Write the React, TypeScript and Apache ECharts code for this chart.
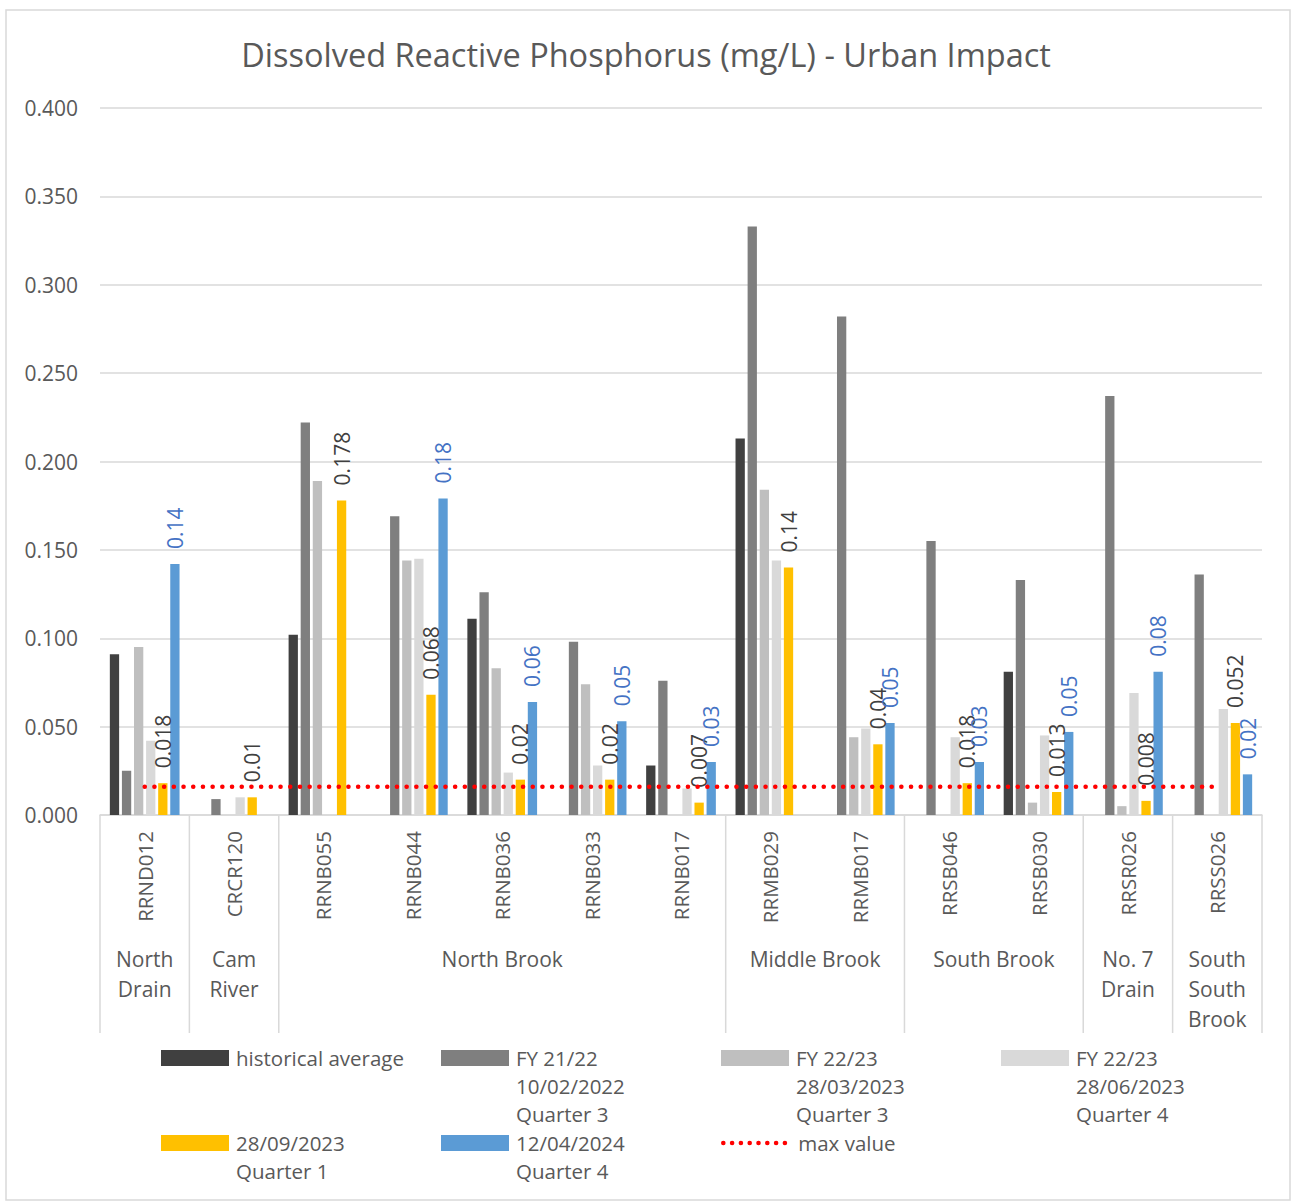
import React, { useEffect, useRef } from 'react';
import * as echarts from 'echarts';

const FONT = '"Open Sans", "Noto Sans", sans-serif';

const categories = ['RRND012', 'CRCR120', 'RRNB055', 'RRNB044', 'RRNB036', 'RRNB033', 'RRNB017', 'RRMB029', 'RRMB017', 'RRSB046', 'RRSB030', 'RRSR026', 'RRSS026'];
const groupNames = ['North\nDrain', 'Cam\nRiver', 'North Brook', 'Middle Brook', 'South Brook', 'No. 7\nDrain', 'South\nSouth\nBrook'];
const groupSizes = [1, 1, 5, 2, 2, 1, 1];

const historicalAverage = [0.091, null, 0.102, null, 0.111, null, 0.028, 0.213, null, null, 0.081, null, null];
const fy2122 = [0.025, 0.009, 0.222, 0.169, 0.126, 0.098, 0.076, 0.333, 0.282, 0.155, 0.133, 0.237, 0.136];
const fy2223Q3 = [0.095, null, 0.189, 0.144, 0.083, 0.074, null, 0.184, 0.044, null, 0.007, 0.005, null];
const fy2223Q4 = [0.042, 0.01, null, 0.145, 0.024, 0.028, 0.015, 0.144, 0.049, 0.044, 0.045, 0.069, 0.06];
const sep2023Q1 = [0.018, 0.01, 0.178, 0.068, 0.02, 0.02, 0.007, 0.14, 0.04, 0.018, 0.013, 0.008, 0.052];
const apr2024Q4 = [0.142, null, null, 0.179, 0.064, 0.053, 0.03, null, 0.052, 0.03, 0.047, 0.081, 0.023];
const maxValue = [0.016, 0.016, 0.016, 0.016, 0.016, 0.016, 0.016, 0.016, 0.016, 0.016, 0.016, 0.016, 0.016];

const seriesNames = [
  'historical average',
  'FY 21/22\n10/02/2022\nQuarter 3',
  'FY 22/23\n28/03/2023\nQuarter 3',
  'FY 22/23\n28/06/2023\nQuarter 4',
  '28/09/2023\nQuarter 1',
  '12/04/2024\nQuarter 4',
  'max value',
];
const seriesColors = ['#404040', '#7f7f7f', '#bfbfbf', '#d9d9d9', '#ffc000', '#5b9bd5', '#ff0000'];
const yTicks = { min: 0, max: 0.4, interval: 0.05 };

export default function App() {
  const ref = useRef<HTMLDivElement>(null);

  useEffect(() => {
    document.body.style.margin = '0';
    const chart = echarts.init(ref.current!, undefined, { renderer: 'svg' });

    const barData = [historicalAverage, fy2122, fy2223Q3, fy2223Q4, sep2023Q1, apr2024Q4];
    const barSeries: any[] = barData.map((d, i) => {
      const s: any = {
        name: seriesNames[i],
        type: 'bar',
        data: d,
        barGap: '30%',
        barCategoryGap: '22%',
        itemStyle: { color: seriesColors[i] },
      };
      if (i === 4) {
        s.label = {
          show: true, position: 'top', rotate: 90, align: 'left', verticalAlign: 'middle', distance: 15,
          formatter: (p: any) => String(p.value), color: '#404040', fontSize: 21, fontFamily: FONT,
        };
      }
      if (i === 5) {
        s.label = {
          show: true, position: 'top', rotate: 90, align: 'left', verticalAlign: 'middle', distance: 15,
          formatter: (p: any) => Number(p.value).toFixed(2), color: '#4472c4', fontSize: 21, fontFamily: FONT,
        };
      }
      return s;
    });

    const lineSeries = {
      name: seriesNames[6],
      type: 'line',
      data: maxValue,
      symbol: 'none',
      z: 5,
      lineStyle: { color: seriesColors[6], width: 4.5, type: [0.1, 9.6], cap: 'round' },
      itemStyle: { color: seriesColors[6] },
    };

    // legend text: pad to 5 lines so that the first line sits level with the icon
    const padLegend = (name: string) => {
      const n = name.split('\n').length;
      return '\n\n' + name + '\n'.repeat(3 - n);
    };
    const legendLineHeight = 28;
    const legendCommon = {
      orient: 'horizontal',
      left: 161,
      itemWidth: 68,
      itemHeight: 16,
      itemGap: 7,
      padding: 0,
      selectedMode: false,
      formatter: padLegend,
      textStyle: { width: 198, fontSize: 20.5, lineHeight: legendLineHeight, color: '#595959', fontFamily: FONT, padding: [0, 0, 0, 2] },
    };
    const boxHalf = (5 * legendLineHeight) / 2;

    chart.setOption({
      animation: false,
      textStyle: { fontFamily: FONT },
      title: {
        text: 'Dissolved Reactive Phosphorus (mg/L) - Urban Impact',
        left: 'center',
        top: 33,
        textStyle: { fontSize: 32.5, fontWeight: 'normal', color: '#595959', fontFamily: FONT },
      },
      grid: { left: 100, right: 30, top: 108, bottom: 1202 - 815, containLabel: false },
      legend: [
        {
          ...legendCommon,
          top: 1058 - boxHalf,
          data: [0, 1, 2, 3].map((i) => ({ name: seriesNames[i], icon: 'rect' })),
        },
        {
          ...legendCommon,
          top: 1143 - boxHalf,
          data: [
            { name: seriesNames[4], icon: 'rect' },
            { name: seriesNames[5], icon: 'rect' },
            {
              name: seriesNames[6],
              itemStyle: { color: 'rgba(0,0,0,0)', borderColor: 'rgba(0,0,0,0)', borderWidth: 0 },
              lineStyle: { color: seriesColors[6], width: 4.5, type: [0.1, 8.7], cap: 'round' },
            },
          ],
        },
      ],
      xAxis: {
        type: 'category',
        data: categories,
        axisLine: { show: true, lineStyle: { color: '#d9d9d9', width: 1.5 } },
        axisTick: { show: false },
        axisLabel: { interval: 0, rotate: 90, margin: 16, fontSize: 20.5, color: '#595959', fontFamily: FONT },
      },
      yAxis: {
        type: 'value',
        min: yTicks.min,
        max: yTicks.max,
        interval: yTicks.interval,
        axisLine: { show: false },
        axisTick: { show: false },
        axisLabel: { formatter: (v: number) => v.toFixed(3), fontSize: 21, color: '#595959', margin: 22, fontFamily: FONT },
        splitLine: { lineStyle: { color: '#d9d9d9', width: 1.5 } },
      },
      series: [...barSeries, lineSeries],
    });

    // group separators and group labels, from the axis scale
    const c0 = chart.convertToPixel({ xAxisIndex: 0 }, 0) as number;
    const c1 = chart.convertToPixel({ xAxisIndex: 0 }, 1) as number;
    const band = c1 - c0;
    const axisY = chart.convertToPixel({ yAxisIndex: 0 }, 0) as number;
    const graphics: any[] = [
      { type: 'rect', shape: { x: 6, y: 10, width: 1284, height: 1190 }, style: { fill: 'none', stroke: '#d9d9d9', lineWidth: 1.5 }, silent: true },
    ];
    let start = 0;
    const boundaries: number[] = [c0 - band / 2];
    groupSizes.forEach((size, gi) => {
      const end = start + size - 1;
      const xs = chart.convertToPixel({ xAxisIndex: 0 }, start) as number;
      const xe = chart.convertToPixel({ xAxisIndex: 0 }, end) as number;
      const center = (xs + xe) / 2;
      boundaries.push(xe + band / 2);
      graphics.push({
        type: 'text',
        x: center,
        y: 944,
        style: { text: groupNames[gi], fill: '#595959', fontSize: 21, lineHeight: 30, fontFamily: FONT, align: 'center', verticalAlign: 'top' },
      });
      start = end + 1;
    });
    boundaries.forEach((bx) => {
      graphics.push({
        type: 'line',
        shape: { x1: bx, y1: axisY, x2: bx, y2: 1033 },
        style: { stroke: '#d9d9d9', lineWidth: 1.5 },
        silent: true,
      });
    });
    chart.setOption({ graphic: graphics });

    return () => chart.dispose();
  }, []);

  return <div ref={ref} style={{ width: 1292, height: 1202 }} />;
}
